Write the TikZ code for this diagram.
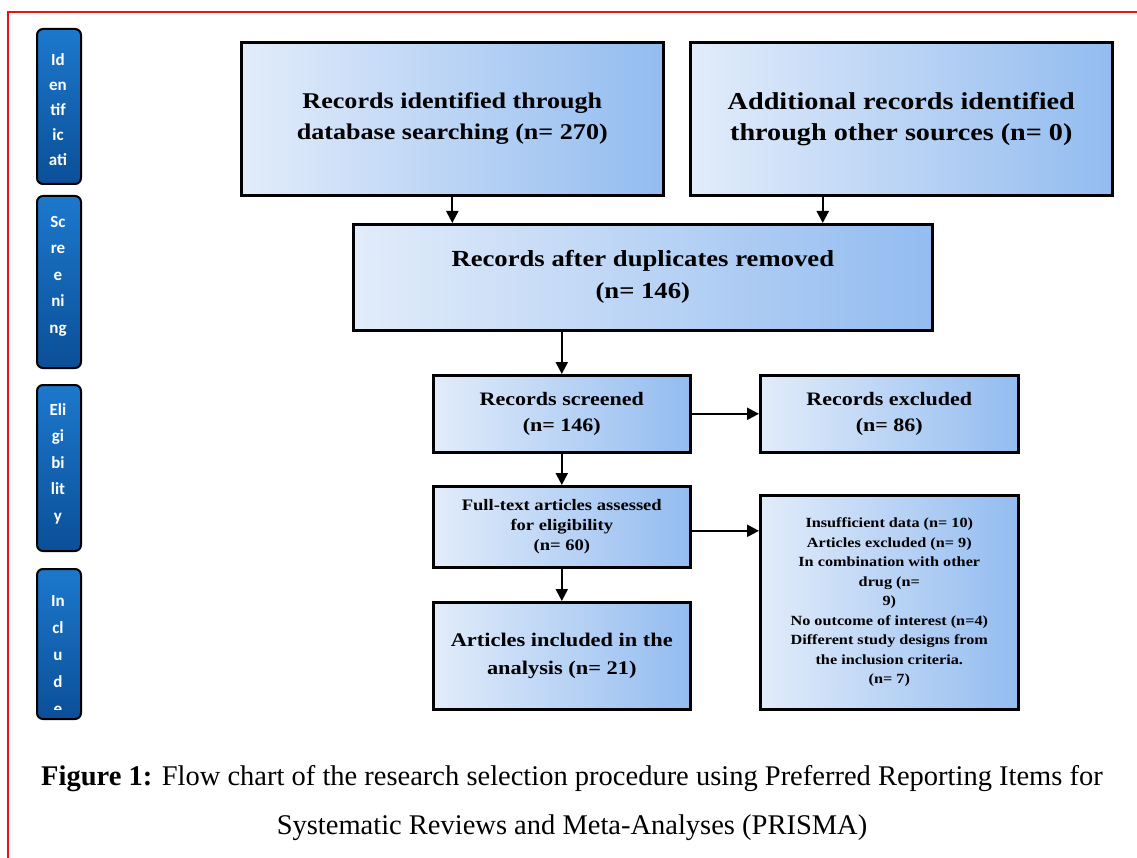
\documentclass[tikz,border=0pt]{standalone}
\usepackage{fontspec}
\setmainfont{Liberation Serif}
\newfontfamily\boxfont[FakeStretch=1.16]{Liberation Serif}
\newfontfamily\tabfont{Carlito}
\usetikzlibrary{arrows.meta,shadows,calc}
\definecolor{boxL}{HTML}{E2ECFA}
\definecolor{boxR}{HTML}{93BCF0}
\definecolor{tabT}{HTML}{1C78CC}
\definecolor{tabB}{HTML}{0B4F98}
\definecolor{frameRed}{HTML}{EE1111}
\tikzset{
  flowbox/.style={draw=black, line width=2.6pt, left color=boxL, right color=boxR,
    anchor=north west, align=center, inner sep=2pt,
    drop shadow={shadow xshift=2pt, shadow yshift=-2pt, fill=black, opacity=0.25}},
  tabbox/.style={draw=black, line width=2pt, rounded corners=6pt, top color=tabT, bottom color=tabB,
    anchor=north west, minimum width=44pt, inner sep=0pt},
  tabtext/.style={anchor=north, align=center, text=white,
    font=\tabfont\bfseries\fontsize{17}{26.5}\selectfont, inner sep=0pt},
  flowarrow/.style={line width=2.2pt, -{Triangle[length=12pt,width=12pt]}}
}
\begin{document}
\begin{tikzpicture}[x=1pt,y=-1pt]
\useasboundingbox (0,0) rectangle (1137,858);
\fill[white] (0,0) rectangle (1137,858);
% red frame
\draw[frameRed, line width=2pt] (8,858) -- (8,12) -- (1137,12);

% side tabs
\node[tabbox, minimum height=155pt] (tabI) at (36,28) {};
\node[tabtext, font=\tabfont\bfseries\fontsize{17}{25}\selectfont] (tabItext) at (58,53) {Id\\en\\tif\\ic\\ati};
\node[tabbox, minimum height=172pt] (tabS) at (36,195) {};
\node[tabtext] (tabStext) at (58,216) {Sc\\re\\e\\ni\\ng};
\node[tabbox, minimum height=166pt] (tabE) at (36,384) {};
\node[tabtext] (tabEtext) at (58,403) {Eli\\gi\\bi\\lit\\y};
\node[tabbox, minimum height=150pt] (tabN) at (36,568) {};
\begin{scope}
  \clip (38,570) rectangle (78,709);
  \node[tabtext, font=\tabfont\bfseries\fontsize{17}{27}\selectfont] (tabNtext) at (58,595) {In\\cl\\u\\d\\e};
\end{scope}

% boxes
\node[flowbox, minimum width=422pt, minimum height=153pt, font=\boxfont\bfseries\fontsize{22.5}{31}\selectfont] (b1) at (240,41)
  {Records identified through\\database searching (n= 270)};
\node[flowbox, minimum width=422pt, minimum height=153pt, font=\boxfont\bfseries\fontsize{24.3}{31}\selectfont] (b2) at (689,41)
  {Additional records identified\\through other sources (n= 0)};
\node[flowbox, minimum width=579pt, minimum height=106pt, font=\boxfont\bfseries\fontsize{23}{32}\selectfont] (b3) at (352,223)
  {Records after duplicates removed\\(n= 146)};
\node[flowbox, minimum width=257pt, minimum height=77pt, font=\boxfont\bfseries\fontsize{19}{26}\selectfont] (b4) at (432,374)
  {Records screened\\(n= 146)};
\node[flowbox, minimum width=258pt, minimum height=77pt, font=\boxfont\bfseries\fontsize{19}{26}\selectfont] (b5) at (759,374)
  {Records excluded\\(n= 86)};
\node[flowbox, minimum width=257pt, minimum height=81pt, font=\boxfont\bfseries\fontsize{16}{20}\selectfont] (b6) at (432,485)
  {Full-text articles assessed\\for eligibility\\(n= 60)};
\node[flowbox, minimum width=258pt, minimum height=214pt, font=\boxfont\bfseries\fontsize{14}{19.5}\selectfont] (b7) at (759,494)
  {Insufficient data (n= 10)\\Articles excluded (n= 9)\\In combination with other\\drug (n=\\9)\\No outcome of interest (n=4)\\Different study designs from\\the inclusion criteria.\\(n= 7)};
\node[flowbox, minimum width=257pt, minimum height=107pt, font=\boxfont\bfseries\fontsize{19.3}{28}\selectfont] (b8) at (432,601)
  {Articles included in the\\analysis (n= 21)};

% arrows
\draw[flowarrow] (b1.south) -- (b1.south |- b3.north);
\coordinate (b2out) at ($(b2.south west)!0.315!(b2.south east)$);
\draw[flowarrow] (b2out) -- (b2out |- b3.north);
\draw[flowarrow] (b4.north |- b3.south) -- (b4.north);
\draw[flowarrow] (b4.east) -- (b5.west);
\draw[flowarrow] (b4.south) -- (b6.north);
\coordinate (b6out) at ($(b6.east)+(0,4)$);
\draw[flowarrow] (b6out) -- (b6out -| b7.west);
\draw[flowarrow] (b6.south) -- (b8.north);

% caption
\node[font=\fontsize{28.5}{30}\selectfont, inner sep=0pt] (cap1) at (572,779)
  {\textbf{Figure 1:} Flow chart of the research selection procedure using Preferred Reporting Items for};
\node[font=\fontsize{28.5}{30}\selectfont, inner sep=0pt] (cap2) at (572,828)
  {Systematic Reviews and Meta-Analyses (PRISMA)};
\end{tikzpicture}
\end{document}
